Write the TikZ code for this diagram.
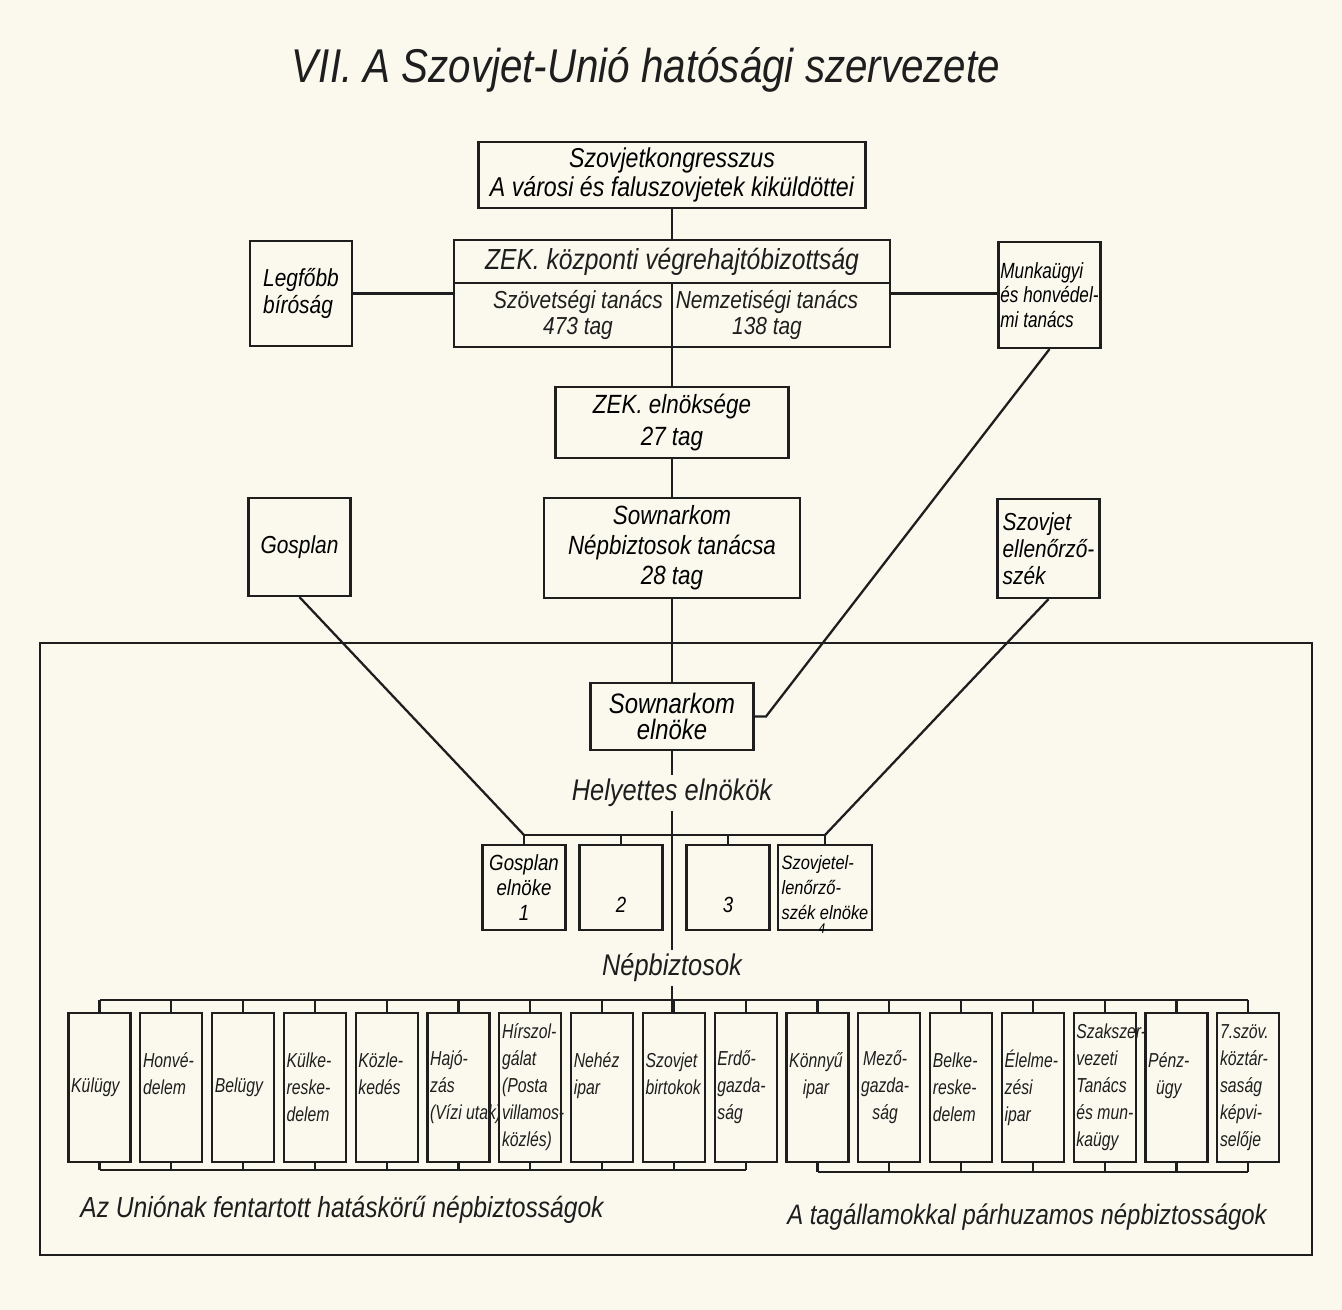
\documentclass[tikz,border=0pt]{standalone}
\usepackage{fontspec}
\usetikzlibrary{calc}
\newfontfamily\handfont[FakeStretch=0.85]{Liberation Sans}
\newfontfamily\narrowhandfont[FakeStretch=0.78]{Liberation Sans}
\newcommand{\handSize}[2]{\handfont\itshape\fontsize{#1}{#2}\selectfont}
\newcommand{\narrowSize}[2]{\narrowhandfont\itshape\fontsize{#1}{#2}\selectfont}

\begin{document}
\begin{tikzpicture}[x=0.02cm, y=-0.02cm,
    inkLine/.style={draw=inkBlack, line width=1.3pt},
    orgBox/.style={inkLine, fill=paperCream, rectangle, inner sep=2pt, align=center, font=\handSize{15.5}{16.5}},
    sideBox/.style={orgBox, align=left, minimum width=2.04cm, font=\handSize{14}{15.3}},
    deputyBox/.style={orgBox, minimum width=1.66cm, minimum height=1.7cm, font=\handSize{12.5}{14.2}},
    ministryBox/.style={orgBox, minimum width=1.24cm, minimum height=2.98cm, inner sep=0pt},
    ministryText/.style={inner sep=0pt, anchor=west, xshift=2pt, text=inkBlack, font=\narrowSize{11.5}{15.4}},
    captionText/.style={inner sep=2pt, text=inkBlack, font=\handSize{17}{19}},
]

% colors
\definecolor{paperCream}{HTML}{FBF9EE}
\definecolor{inkBlack}{HTML}{1E1E1E}

% sheet
\fill[paperCream] (0,0) rectangle (1342,1310);
\useasboundingbox (0,0) rectangle (1342,1310);

% title
\node[text=inkBlack, font=\handSize{27}{30}] (title) at (646,70) {VII. A Szovjet-Unió hatósági szervezete};

% congress and central committee
\node[orgBox, minimum width=7.74cm, minimum height=1.32cm] (kongresszus) at (672,175)
    {Szovjetkongresszus\\A városi és faluszovjetek kiküldöttei};
\node[orgBox, minimum width=8.72cm, minimum height=2.14cm] (zek) at (672,293.5) {};
\coordinate (zekDivider) at (672,283);
\draw[inkLine] (zek.west |- zekDivider) -- (zek.east |- zekDivider);
\draw[inkLine] (zekDivider) -- (zek.south);
\node[text=inkBlack, font=\handSize{16.5}{18}] (zekTitle) at (672,262) {ZEK. központi végrehajtóbizottság};
\node[text=inkBlack, align=center, font=\handSize{14}{14.5}] (szovetsegi) at (578,315) {Szövetségi tanács\\473 tag};
\node[text=inkBlack, align=center, font=\handSize{14}{14.5}] (nemzetisegi) at (767,315) {Nemzetiségi tanács\\138 tag};

% side bodies
\node[sideBox, minimum height=2.1cm] (legfobb) at (301,293.5) {Legfőbb\\bíróság};
\node[sideBox, minimum height=2.12cm, inner xsep=1pt, font=\narrowSize{12.5}{13.9}] (munkaugyi) at (1049.5,295) {Munkaügyi\\és honvédel-\\mi tanács};
\draw[inkLine] (legfobb.east) -- (legfobb.east -| zek.west);
\draw[inkLine] (zek.east) -- (zek.east -| munkaugyi.west);

% presidium and council
\node[orgBox, minimum width=4.66cm, minimum height=1.42cm, font=\handSize{15}{18.7}] (zekElnokseg) at (672,422.5) {ZEK. elnöksége\\27 tag};
\node[orgBox, minimum width=5.12cm, minimum height=2cm, font=\handSize{15}{17}] (sownarkom) at (672,548) {Sownarkom\\Népbiztosok tanácsa\\28 tag};
\node[sideBox, minimum height=1.96cm] (gosplan) at (299.5,547) {Gosplan};
\node[sideBox, minimum height=1.98cm] (ellenorzo) at (1048.5,548.5) {Szovjet\\ellenőrző-\\szék};

% frame of the government
\draw[inkLine] (40,643) rectangle (1312,1255);

% chairman
\node[orgBox, minimum width=3.26cm, minimum height=1.34cm, font=\handSize{16}{15}] (elnoke) at (672,716.5) {Sownarkom\\elnöke};
\coordinate (munkaBend) at (766,716.5);
\draw[inkLine] (munkaugyi.south) -- (munkaBend) -- (elnoke.east);

% deputies
\node[captionText] (helyettes) at (672,793) {Helyettes elnökök};
\node[deputyBox] (dep1) at (524,887.5) {Gosplan\\elnöke\\1};
\node[deputyBox] (dep2) at (621,887.5) {\mbox{}\\\mbox{}\\2};
\node[deputyBox] (dep3) at (728,887.5) {\mbox{}\\\mbox{}\\3};
\node[deputyBox, align=left, font=\handSize{11}{14.2}] (dep4) at (825,887.5)
    {Szovjetel-\\lenőrző-\\szék\smash{\rlap{\raisebox{-8pt}{\fontsize{8}{8}\selectfont\ 4}}} elnöke};
\coordinate (depBracket) at (672,835);
\draw[inkLine] (dep1.north |- depBracket) -- (dep4.north |- depBracket);
\foreach \d in {1,...,4}
    \draw[inkLine] (dep\d.north) -- (dep\d.north |- depBracket);
\draw[inkLine] (gosplan.south) -- (dep1.north |- depBracket);
\draw[inkLine] (ellenorzo.south) -- (dep4.north |- depBracket);

% people's commissariats
\node[captionText] (nepbiztosok) at (672,968) {Népbiztosok};
\newcommand\ministry[3]{
    % #1 index, #2 alignment, #3 text
    \node[ministryBox] (nb#1) at ({99.5+71.8*(#1-1)},1087.5) {};
    \node[ministryText, align=#2] (nbText#1) at (nb#1.west) {#3};
}
\ministry{1}{center}{Külügy}
\ministry{2}{left}{Honvé-\\delem\\\mbox{}}
\ministry{3}{center}{Belügy}
\ministry{4}{left}{Külke-\\reske-\\delem}
\ministry{5}{left}{Közle-\\kedés\\\mbox{}}
\ministry{6}{left}{Hajó-\\zás\\(Vízi utak)}
\ministry{7}{left}{Hírszol-\\gálat\\(Posta\\villamos-\\közlés)}
\ministry{8}{left}{Nehéz\\ipar\\\mbox{}}
\ministry{9}{left}{Szovjet\\birtokok\\\mbox{}}
\ministry{10}{left}{Erdő-\\gazda-\\ság}
\ministry{11}{center}{Könnyű\\ipar\\\mbox{}}
\ministry{12}{center}{Mező-\\gazda-\\ság}
\ministry{13}{left}{Belke-\\reske-\\delem}
\ministry{14}{left}{Élelme-\\zési\\ipar}
\ministry{15}{left}{Szakszer-\\vezeti\\Tanács\\és mun-\\kaügy}
\ministry{16}{center}{Pénz-\\ügy\\\mbox{}}
\ministry{17}{left}{7.szöv.\\köztár-\\saság\\képvi-\\selője}

% brackets above and below the row
\coordinate (topBracket) at (672,1000);
\coordinate (unionBracket) at (400,1170);
\coordinate (parallelBracket) at (1000,1172);
\draw[inkLine] (nb1.north |- topBracket) -- (nb17.north |- topBracket);
\foreach \i in {1,...,17}
    \draw[inkLine] (nb\i.north) -- (nb\i.north |- topBracket);
\draw[inkLine] (nb1.south |- unionBracket) -- (nb10.south |- unionBracket);
\foreach \i in {1,...,10}
    \draw[inkLine] (nb\i.south) -- (nb\i.south |- unionBracket);
\draw[inkLine] (nb11.south |- parallelBracket) -- (nb17.south |- parallelBracket);
\foreach \i in {11,...,17}
    \draw[inkLine] (nb\i.south) -- (nb\i.south |- parallelBracket);

% main axis
\draw[inkLine] (kongresszus.south) -- (zek.north);
\draw[inkLine] (zek.south) -- (zekElnokseg.north);
\draw[inkLine] (zekElnokseg.south) -- (sownarkom.north);
\draw[inkLine] (sownarkom.south) -- (elnoke.north);
\draw[inkLine] (elnoke.south) -- (helyettes.north);
\draw[inkLine] (helyettes.south) -- (nepbiztosok.north);
\draw[inkLine] (nepbiztosok.south) -- (nepbiztosok.south |- nb9.north);

% captions of the two groups
\node[captionText, font=\handSize{16.5}{18}] (unionCaption) at (342,1210) {Az Uniónak fentartott hatáskörű népbiztosságok};
\node[captionText, font=\handSize{16}{18}] (parallelCaption) at (1027,1217) {A tagállamokkal párhuzamos népbiztosságok};

\end{tikzpicture}
\end{document}
